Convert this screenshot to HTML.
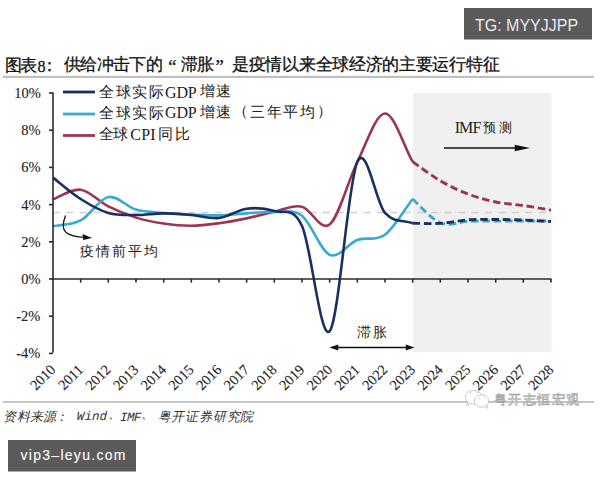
<!DOCTYPE html>
<html><head><meta charset="utf-8">
<style>
html,body{margin:0;padding:0;background:#fff;width:600px;height:480px;overflow:hidden;position:relative}
.box{position:absolute;background:#5b5b5b;color:#fff;font-family:"Liberation Sans",sans-serif;}
#tg{left:464px;top:8px;width:128px;height:31.5px;font-size:15px;line-height:31.5px;text-align:center}
#vip{left:8px;top:440px;width:128px;height:31.5px;font-size:15px;line-height:31.5px;text-align:center}
svg{position:absolute;left:0;top:0}
</style></head><body>
<svg width="600" height="480">
<rect x="3" y="75.9" width="591" height="2" fill="#bcbcbc"/>
<rect x="3" y="401" width="591" height="1.9" fill="#c2c2c2"/>
<rect x="464" y="8" width="128" height="31.5" fill="#5b5b5b"/>
<rect x="8" y="440" width="128" height="31.5" fill="#5b5b5b"/>
<rect x="413" y="93" width="138.5" height="259" fill="#f0f0f0"/>
<line x1="53" y1="212.4" x2="551" y2="212.4" stroke="#cfcfd2" stroke-width="1.5" stroke-dasharray="7,6.5"/>
<path d="M53.00,199.39 C57.61,197.78 71.44,188.54 80.67,189.72 C89.89,190.90 99.11,201.81 108.33,206.46 C117.56,211.11 126.78,214.77 136.00,217.62 C145.22,220.47 154.44,222.21 163.67,223.57 C172.89,224.94 182.11,225.87 191.33,225.80 C200.56,225.74 209.78,224.44 219.00,223.20 C228.22,221.96 237.44,220.29 246.67,218.36 C255.89,216.44 265.11,213.62 274.33,211.67 C283.56,209.72 292.78,204.51 302.00,206.65 C311.22,208.78 320.44,231.94 329.67,224.50 C338.89,217.06 348.11,180.51 357.33,162.01 C366.56,143.50 375.78,113.49 385.00,113.46 C394.22,113.43 403.44,145.70 412.67,161.82" stroke="#9b3455" stroke-width="2.6" fill="none"/>
<path d="M53.00,226.18 C57.61,225.21 71.44,225.28 80.67,220.41 C89.89,215.54 99.11,198.77 108.33,196.97 C117.56,195.18 126.78,206.96 136.00,209.62 C145.22,212.29 154.44,212.16 163.67,212.97 C172.89,213.78 182.11,214.06 191.33,214.46 C200.56,214.86 209.78,215.57 219.00,215.39 C228.22,215.20 237.44,213.90 246.67,213.34 C255.89,212.78 265.11,211.64 274.33,212.04 C283.56,212.44 292.78,208.63 302.00,215.76 C311.22,222.89 320.44,250.79 329.67,254.82 C338.89,258.85 348.11,243.29 357.33,239.94 C366.56,236.59 375.78,241.55 385.00,234.73 C394.22,227.91 403.44,210.92 412.67,199.02" stroke="#36abd0" stroke-width="2.6" fill="none"/>
<path d="M53.00,177.63 C57.61,181.19 71.44,193.13 80.67,199.02 C89.89,204.91 99.11,210.30 108.33,212.97 C117.56,215.64 126.78,214.95 136.00,215.02 C145.22,215.08 154.44,213.34 163.67,213.34 C172.89,213.34 182.11,214.24 191.33,215.02 C200.56,215.79 209.78,219.05 219.00,217.99 C228.22,216.94 237.44,209.84 246.67,208.69 C255.89,207.55 265.11,208.23 274.33,211.11 C283.56,213.99 292.78,206.00 302.00,225.99 C311.22,245.99 320.44,341.77 329.67,331.08 C338.89,320.38 348.11,181.50 357.33,161.82 C366.56,142.13 375.78,202.74 385.00,212.97 C394.22,223.20 403.44,219.79 412.67,223.20" stroke="#1b2f62" stroke-width="2.6" fill="none"/>
<path d="M412.67,161.82 C417.28,164.98 431.11,175.43 440.33,180.79 C449.56,186.15 458.78,190.46 468.00,194.00 C477.22,197.53 486.44,200.07 495.67,202.00 C504.89,203.92 514.11,204.17 523.33,205.53 C532.56,206.89 546.39,209.41 551.00,210.18" stroke="#9b3455" stroke-width="2.9" fill="none" stroke-dasharray="7.5,3.8"/>
<path d="M412.67,199.02 C417.28,202.99 431.11,219.11 440.33,222.83 C449.56,226.55 458.78,221.65 468.00,221.34 C477.22,221.03 486.44,221.03 495.67,220.97 C504.89,220.91 514.11,220.97 523.33,220.97 C532.56,220.97 546.39,220.97 551.00,220.97" stroke="#36abd0" stroke-width="2.9" fill="none" stroke-dasharray="7.5,3.8"/>
<path d="M412.67,223.20 C417.28,223.23 431.11,223.94 440.33,223.39 C449.56,222.83 458.78,220.50 468.00,219.85 C477.22,219.20 486.44,219.45 495.67,219.48 C504.89,219.51 514.11,219.70 523.33,220.04 C532.56,220.38 546.39,221.28 551.00,221.53" stroke="#1b2f62" stroke-width="2.9" fill="none" stroke-dasharray="7.5,3.8"/>

<g stroke="#2a2a2a" stroke-width="1.6" fill="none">
<line x1="53" y1="92.5" x2="53" y2="352.5"/>
<line x1="52" y1="279" x2="551.5" y2="279"/>
<line x1="49" y1="93.00" x2="53" y2="93.00"/><line x1="49" y1="130.20" x2="53" y2="130.20"/><line x1="49" y1="167.40" x2="53" y2="167.40"/><line x1="49" y1="204.60" x2="53" y2="204.60"/><line x1="49" y1="241.80" x2="53" y2="241.80"/><line x1="49" y1="279.00" x2="53" y2="279.00"/><line x1="49" y1="316.20" x2="53" y2="316.20"/><line x1="49" y1="353.40" x2="53" y2="353.40"/><line x1="80.67" y1="279" x2="80.67" y2="282.6"/><line x1="108.33" y1="279" x2="108.33" y2="282.6"/><line x1="136.00" y1="279" x2="136.00" y2="282.6"/><line x1="163.67" y1="279" x2="163.67" y2="282.6"/><line x1="191.33" y1="279" x2="191.33" y2="282.6"/><line x1="219.00" y1="279" x2="219.00" y2="282.6"/><line x1="246.67" y1="279" x2="246.67" y2="282.6"/><line x1="274.33" y1="279" x2="274.33" y2="282.6"/><line x1="302.00" y1="279" x2="302.00" y2="282.6"/><line x1="329.67" y1="279" x2="329.67" y2="282.6"/><line x1="357.33" y1="279" x2="357.33" y2="282.6"/><line x1="385.00" y1="279" x2="385.00" y2="282.6"/><line x1="412.67" y1="279" x2="412.67" y2="282.6"/><line x1="440.33" y1="279" x2="440.33" y2="282.6"/><line x1="468.00" y1="279" x2="468.00" y2="282.6"/><line x1="495.67" y1="279" x2="495.67" y2="282.6"/><line x1="523.33" y1="279" x2="523.33" y2="282.6"/><line x1="551.00" y1="279" x2="551.00" y2="282.6"/>
</g>
<g font-family="Liberation Serif" font-size="14.5" fill="#222" stroke="#222" stroke-width="0.12">
<text x="14.25" y="98.00">10%</text><text x="21.25" y="135.20">8%</text><text x="21.25" y="172.40">6%</text><text x="21.25" y="209.60">4%</text><text x="21.25" y="246.80">2%</text><text x="21.25" y="284.00">0%</text><text x="16.25" y="321.20">-2%</text><text x="16.25" y="358.40">-4%</text><text transform="translate(56.40,370.60) rotate(-45)" text-anchor="end">2010</text><text transform="translate(84.07,370.60) rotate(-45)" text-anchor="end">2011</text><text transform="translate(111.73,370.60) rotate(-45)" text-anchor="end">2012</text><text transform="translate(139.40,370.60) rotate(-45)" text-anchor="end">2013</text><text transform="translate(167.07,370.60) rotate(-45)" text-anchor="end">2014</text><text transform="translate(194.73,370.60) rotate(-45)" text-anchor="end">2015</text><text transform="translate(222.40,370.60) rotate(-45)" text-anchor="end">2016</text><text transform="translate(250.07,370.60) rotate(-45)" text-anchor="end">2017</text><text transform="translate(277.73,370.60) rotate(-45)" text-anchor="end">2018</text><text transform="translate(305.40,370.60) rotate(-45)" text-anchor="end">2019</text><text transform="translate(333.07,370.60) rotate(-45)" text-anchor="end">2020</text><text transform="translate(360.73,370.60) rotate(-45)" text-anchor="end">2021</text><text transform="translate(388.40,370.60) rotate(-45)" text-anchor="end">2022</text><text transform="translate(416.07,370.60) rotate(-45)" text-anchor="end">2023</text><text transform="translate(443.73,370.60) rotate(-45)" text-anchor="end">2024</text><text transform="translate(471.40,370.60) rotate(-45)" text-anchor="end">2025</text><text transform="translate(499.07,370.60) rotate(-45)" text-anchor="end">2026</text><text transform="translate(526.73,370.60) rotate(-45)" text-anchor="end">2027</text><text transform="translate(554.40,370.60) rotate(-45)" text-anchor="end">2028</text>
</g>
<g stroke-width="2.8" fill="none">
<line x1="63" y1="92" x2="95" y2="92" stroke="#1b2f62"/>
<line x1="63" y1="114" x2="95" y2="114" stroke="#36abd0"/>
<line x1="63" y1="135.5" x2="95" y2="135.5" stroke="#9b3455"/>
</g>
<g fill="#fff" stroke="#c4c4c4" stroke-width="0.9">
<ellipse cx="473.6" cy="397.2" rx="8.3" ry="6.8"/>
<path d="M468,402.5 L466.5,405.5 L471.5,403.6"/>
<ellipse cx="481.5" cy="401" rx="7.2" ry="6.2"/>
<path d="M485,406.4 L487.5,408.3 L486.6,404.6"/>
</g>
<g fill="#c8c8c8"><circle cx="470.5" cy="392.7" r="0.8"/><circle cx="477.3" cy="392.7" r="0.8"/><circle cx="479.3" cy="398.3" r="0.7"/><circle cx="484.6" cy="398.3" r="0.7"/></g>
<text x="493.6" y="404.2" font-family="Liberation Sans" font-size="13" letter-spacing="1.5" fill="#f5f5f5" stroke="#a3a3a3" stroke-width="0.6">粤开志恒宏观</text>
<text x="5.00" y="70.80" font-family="Liberation Sans" font-size="16.5" font-weight="400" fill="#111" stroke="#111" stroke-width="0.3" letter-spacing="-2.00">图表</text>
<text x="37.50" y="71.80" font-family="Liberation Serif" font-size="16" font-weight="400" fill="#111" stroke="#111" stroke-width="0.3">8</text>
<text x="41.00" y="70.55" font-family="Liberation Sans" font-size="16.5" font-weight="400" fill="#111" stroke="#111" stroke-width="0.3">：</text>
<text x="63.75" y="70.30" font-family="Liberation Sans" font-size="16.5" font-weight="400" fill="#111" stroke="#111" stroke-width="0.3" letter-spacing="-0.60">供给冲击下的</text>
<text x="168.25" y="72.67" font-family="Liberation Serif" font-size="18.5" font-weight="400" fill="#111" stroke="#111" stroke-width="0.3">“</text>
<text x="180.50" y="70.30" font-family="Liberation Sans" font-size="16.5" font-weight="400" fill="#111" stroke="#111" stroke-width="0.3" letter-spacing="-1.00">滞胀</text>
<text x="215.50" y="72.67" font-family="Liberation Serif" font-size="18.5" font-weight="400" fill="#111" stroke="#111" stroke-width="0.3">”</text>
<text x="232.00" y="70.30" font-family="Liberation Sans" font-size="16.5" font-weight="400" fill="#111" stroke="#111" stroke-width="0.3" letter-spacing="-0.30">是疫情以来全球经济的主要运行特征</text>
<text x="99.10" y="96.83" font-family="Liberation Serif" font-size="14.5" font-weight="400" fill="#222" letter-spacing="1.57">全球实际</text>
<text x="165.00" y="97.50" font-family="Liberation Serif" font-size="16" font-weight="400" fill="#222" letter-spacing="-0.15">GDP</text>
<text x="199.50" y="96.25" font-family="Liberation Serif" font-size="14.5" font-weight="400" fill="#222" letter-spacing="1.50">增速</text>
<text x="99.10" y="117.75" font-family="Liberation Serif" font-size="14.5" font-weight="400" fill="#222" letter-spacing="1.57">全球实际</text>
<text x="165.00" y="117.90" font-family="Liberation Serif" font-size="16" font-weight="400" fill="#222" letter-spacing="-0.15">GDP</text>
<text x="199.50" y="117.25" font-family="Liberation Serif" font-size="14.5" font-weight="400" fill="#222" letter-spacing="1.50">增速</text>
<text x="232.70" y="116.00" font-family="Liberation Serif" font-size="14.5" font-weight="400" fill="#222">（</text>
<text x="250.00" y="117.25" font-family="Liberation Serif" font-size="14.5" font-weight="400" fill="#222" letter-spacing="1.73">三年平均</text>
<text x="317.20" y="116.00" font-family="Liberation Serif" font-size="14.5" font-weight="400" fill="#222">）</text>
<text x="99.20" y="139.00" font-family="Liberation Serif" font-size="14.5" font-weight="400" fill="#222" letter-spacing="-0.90">全球</text>
<text x="130.25" y="139.68" font-family="Liberation Serif" font-size="16" font-weight="400" fill="#222" letter-spacing="0.25">CPI</text>
<text x="158.40" y="139.00" font-family="Liberation Serif" font-size="14.5" font-weight="400" fill="#222" letter-spacing="1.80">同比</text>
<text x="80.25" y="256.25" font-family="Liberation Serif" font-size="13.5" font-weight="400" fill="#222" letter-spacing="2.06">疫情前平均</text>
<text x="356.70" y="336.85" font-family="Liberation Serif" font-size="13.5" font-weight="400" fill="#222" letter-spacing="2.00">滞胀</text>
<text x="454.70" y="132.75" font-family="Liberation Serif" font-size="16" font-weight="400" fill="#222" letter-spacing="-0.90">IMF</text>
<text x="482.70" y="132.00" font-family="Liberation Serif" font-size="13" font-weight="400" fill="#222" letter-spacing="3.60">预测</text>
<text x="475.00" y="31.00" font-family="Liberation Sans" font-size="16" font-weight="400" fill="#fff" stroke="#5b5b5b" stroke-width="0.2">TG: MYYJJPP</text>
<g transform="translate(0,460.00) scale(1,1.08) translate(0,-460.00)"><text x="20.50" y="460.00" font-family="Liberation Sans" font-size="14" font-weight="400" fill="#fff" stroke="#fff" stroke-width="0.12" letter-spacing="1.29">vip3–leyu.com</text></g><g transform="translate(0,417) skewX(-13) translate(0,-417)"><text x="4.40" y="421.05" font-family="Liberation Serif" font-size="13" font-weight="400" fill="#333" letter-spacing="0.33">资料来源</text>
<text x="55.70" y="420.75" font-family="Liberation Serif" font-size="13" font-weight="400" fill="#333">：</text>
<text x="76.90" y="420.50" font-family="Liberation Mono" font-size="12.5" font-weight="400" fill="#333" letter-spacing="0.10">Wind</text>
<text x="108.50" y="418.50" font-family="Liberation Serif" font-size="13" font-weight="400" fill="#333">、</text>
<text x="120.20" y="420.75" font-family="Liberation Mono" font-size="12.5" font-weight="400" fill="#333" letter-spacing="-0.60">IMF</text>
<text x="141.30" y="418.50" font-family="Liberation Serif" font-size="13" font-weight="400" fill="#333">、</text>
<text x="158.50" y="421.05" font-family="Liberation Serif" font-size="13" font-weight="400" fill="#333" letter-spacing="0.97">粤开证券研究院</text></g>
<g stroke="#111" stroke-width="1.5" fill="none">
<path d="M65.5,215.5 C63,222 62,229 66,232.5 C70,235.5 77,237 84.5,237.3" stroke-width="1.3"/>
<line x1="444" y1="148" x2="520" y2="148" stroke-width="1.3"/>
<line x1="336" y1="347.5" x2="408" y2="347.5" stroke-width="1.3"/>
</g>
<g fill="#111">
<path d="M92,238 L82.6,233.9 L83.2,240 Z"/>
<path d="M530,148 L514.7,144.8 L514.7,151.2 Z"/>
<path d="M329.3,347.5 L338.3,344.6 L338.3,350.4 Z"/>
<path d="M414.5,347.5 L405.8,344.6 L405.8,350.4 Z"/>
</g>
</svg>
</body></html>
